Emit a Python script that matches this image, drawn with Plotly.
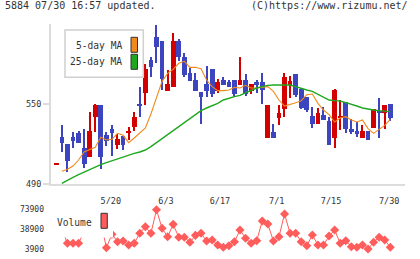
import plotly.graph_objects as go

# ---------------- data ----------------
opens = [504.5, 525.5, 520, 525.5, 528.5, 517, 510, 540, 549, 527, 531, 519, 526, 528.5, 532.5, 550,
         558.5, 583, 600.5, 597, 560, 563, 597, 585, 573, 568, 559, 565, 576, 560, 568, 566.5, 568,
         564, 568, 560, 566.5, 566.5, 524.75, 529, 539.75, 546, 564.25, 572.5, 561.25, 555.25,
         540.75, 535.25, 542, 537.25, 524.75, 539.5, 551.5, 531.25, 529.75, 524.75, 529.75, 532.25,
         545, 543.5, 550]
highs = [505.5, 534, 520, 529, 530, 531.5, 544, 550, 549, 529, 534, 527.5, 526, 532.5, 544, 563,
         580, 585.5, 609, 597, 575.5, 603, 599, 588, 577, 573.5, 559, 578.5, 576, 569, 570.25,
         567.75, 568, 585.5, 572.5, 565, 567.75, 573.5, 549.25, 535, 549.25, 573.5, 571, 572.5,
         561.75, 555.25, 547.5, 547.25, 547.5, 540.5, 561.25, 553, 551.5, 538.75, 536.75, 534,
         529.75, 546.25, 554.5, 549.25, 550]
lows = [504.5, 514, 499, 517, 520.5, 502, 510, 529, 501, 518.5, 511, 516.5, 515.5, 523, 529.5, 540.5,
        549.5, 570, 580.5, 560.5, 560, 563, 582.5, 570, 567.5, 560, 535, 555, 555.5, 558, 564.25,
        563, 555, 564, 556, 557.5, 558, 549.75, 524.75, 524.75, 534.25, 540.5, 554.75, 555, 546.5,
        544.25, 532, 535.25, 538, 519.5, 516.75, 530.5, 528.5, 527.5, 525.5, 524.75, 523, 532.25,
        524.75, 531.5, 537.5]
closes = [505.5, 520.5, 507.5, 522.5, 520.5, 505, 530, 549, 510.5, 522, 528.5, 524, 519, 529.5, 540,
          548.5, 576, 578, 593, 569, 565, 597, 585, 572, 567.5, 560, 555, 560, 557.5, 566.75, 564.25,
          563, 557.5, 568, 557.5, 565, 564.25, 560.5, 549.25, 524.75, 543.25, 570, 567.25, 556.75,
          547.25, 545.75, 535.25, 543.25, 538, 519.5, 560.5, 541, 531, 529.25, 527.75, 529.75, 523,
          546.25, 543.5, 549.25, 539.75]
ma5 = [None, 499.5, 501, 503.5, 508, 514, 515.5, 517.5, 525, 523, 523.5, 528, 526.5, 521, 524.5,
       528, 532, 542.5, 554, 567, 573, 576, 580.5, 582, 577.5, 577.5, 576.5, 568, 563, 560, 560,
       560.5, 562.5, 562, 564, 562, 562, 562.5, 563, 559.5, 553, 548.5, 549.5, 551, 552.5, 557,
       557.5, 550.5, 545.5, 542, 536.5, 539.5, 540.5, 538, 536.5, 538, 531.5, 528, 531, 534, 538.5]
ma25 = [None, 490.5, 493, 495, 497, 499, 501, 503, 504.5, 506, 507.5, 509, 510.5, 511.5, 513, 514,
        515.5, 518, 521, 524, 527, 530.5, 533, 536, 539, 542, 545, 547, 548.5, 550.5, 553, 554.5,
        555.5, 556.5, 558.5, 560.5, 562, 563, 564, 564.25, 564.25, 564.25, 564.25, 563, 561.5,
        560.5, 559.5, 557.5, 555, 553, 552.5, 552.25, 551, 550, 548.5, 547, 546, 545.5, 545, 544.5,
        544.25]
volume = [40000, 38000, 14000, 14000, 14000, 35000, 45000, 50000, 52000, 6200, 30000, 16800, 18000,
          11000, 14000, 31600, 43200, 31600, 73000, 40400, 25600, 47400, 24500, 24500, 15700, 28000,
          31600, 18000, 19800, 11000, 6900, 9700, 16800, 37400, 22800, 14000, 18500, 53300, 48000,
          18000, 25600, 65600, 31600, 31600, 16800, 9700, 28600, 11000, 11000, 26800, 37400, 14000,
          18500, 7900, 6900, 11000, 3900, 15700, 24500, 19800, 6900]
x_labels = ["5/20", "6/3", "6/17", "7/1", "7/15", "7/30"]
x_label_pos = [9.8, 19.7, 29.4, 39.6, 49.35, 59.8]
price_ticks = [490, 550]
vol_ticks = [3900, 38900, 73900]

RED = "#d40000"
BLUE = "#3c44c0"
ORANGE = "#f08a1c"
GREEN = "#1fa81f"
VOLC = "#ff5c5c"
FONT = "DejaVu Sans Mono"

idx = list(range(len(opens)))
colors = [RED if c >= o else BLUE for o, c in zip(opens, closes)]
body_base = [min(o, c) for o, c in zip(opens, closes)]
body_h = [max(abs(c - o), 0.8) for o, c in zip(opens, closes)]
wick_h = [h - l for h, l in zip(highs, lows)]

W, H = 420, 259
ML, MR, MT, MB = 51, 15, 24, 4
PW, PH = W - ML - MR, H - MT - MB


def px(x):
    return (x - ML) / PW


def py(y):
    return (H - MB - y) / PH


fig = go.Figure()
fig.add_trace(go.Bar(x=idx, y=wick_h, base=lows, width=0.2, marker=dict(color=colors, line_width=0),
                     showlegend=False, hoverinfo="skip"))
fig.add_trace(go.Bar(x=idx, y=body_h, base=body_base, width=0.85, marker=dict(color=colors, line_width=0),
                     showlegend=False))
fig.add_trace(go.Scatter(x=idx, y=ma5, mode="lines", line=dict(color=ORANGE, width=1.1), showlegend=False))
fig.add_trace(go.Scatter(x=idx, y=ma25, mode="lines", line=dict(color=GREEN, width=1.4), showlegend=False))
fig.add_trace(go.Scatter(x=idx, y=volume, mode="lines+markers", xaxis="x2", yaxis="y2",
                         line=dict(color=VOLC, width=1),
                         marker=dict(symbol="diamond", size=7, color=VOLC), showlegend=False))

xr = [(ML - 56.3) / 5.5667, (ML + PW - 56.3) / 5.5667]
tickfont = dict(family=FONT, size=8.5, color="#333")
axis_grey = "#dcdcdc"

fig.update_layout(
    width=W, height=H, margin=dict(l=ML, r=MR, t=MT, b=MB, pad=0, autoexpand=False),
    paper_bgcolor="white", plot_bgcolor="white", barmode="overlay", bargap=0, showlegend=False,
    xaxis=dict(domain=[0, 1], range=xr, anchor="y", tickvals=x_label_pos, ticktext=x_labels,
               ticks="", showline=True, linecolor=axis_grey, linewidth=2, showgrid=False,
               zeroline=False, tickfont=tickfont, ticklabelstandoff=8, automargin=False),
    yaxis=dict(domain=[py(184), 1], range=[490, 610], tickvals=price_ticks, ticks="outside",
               ticklen=6, tickwidth=2, tickcolor=axis_grey, showline=True, linecolor=axis_grey,
               linewidth=2, showgrid=False, zeroline=False, tickfont=tickfont, automargin=False),
    xaxis2=dict(domain=[0, 1], range=xr, anchor="y2", visible=False, automargin=False),
    yaxis2=dict(domain=[0, py(198)], range=[-6679, 93824], tickvals=vol_ticks,
                ticktext=[str(v) for v in vol_ticks], ticks="", showline=False, showgrid=False,
                zeroline=False, tickfont=dict(family=FONT, size=8, color="#333"), ticklabelstandoff=6,
                automargin=False),
    xaxis3=dict(overlaying="x", anchor="y", range=[0, 11], tickvals=list(range(12)), ticks="outside",
                ticklen=5, tickwidth=2, tickcolor=axis_grey, showticklabels=False, showline=False,
                showgrid=False, zeroline=False, automargin=False),
    xaxis4=dict(overlaying="x", anchor="y", range=[0, 11], tickvals=list(range(12)), ticks="inside",
                ticklen=4, tickwidth=2, tickcolor=axis_grey, showticklabels=False, showline=False,
                showgrid=False, zeroline=False, automargin=False),
)

shapes = [
    # main legend box
    dict(type="rect", xref="paper", yref="paper", x0=px(65), x1=px(143.3), y0=py(77.3), y1=py(30),
         fillcolor="white", line=dict(color="#d0d0d0", width=1.5), layer="above"),
    dict(type="rect", xref="paper", yref="paper", x0=px(131), x1=px(137.5), y0=py(52.3), y1=py(37.3),
         fillcolor=ORANGE, line=dict(color="#333", width=1), layer="above"),
    dict(type="rect", xref="paper", yref="paper", x0=px(131), x1=px(137.5), y0=py(69.3), y1=py(54.3),
         fillcolor=GREEN, line=dict(color="#333", width=1), layer="above"),
    # volume legend box
    dict(type="rect", xref="paper", yref="paper", x0=px(52), x1=px(113), y0=py(237.5), y1=py(204),
         fillcolor="white", line=dict(width=0), layer="above"),
    dict(type="rect", xref="paper", yref="paper", x0=px(101), x1=px(107.3), y0=py(228.3), y1=py(213.3),
         fillcolor=VOLC, line=dict(color="#333", width=1), layer="above"),
]
annotations = [
    dict(text="5884 07/30 16:57 updated.", xref="paper", yref="paper", x=px(3), y=py(6),
         xanchor="left", yanchor="middle", showarrow=False, font=dict(family=FONT, size=10, color="#333")),
    dict(text="(C)https://www.rizumu.net/", xref="paper", yref="paper", x=px(410), y=py(6),
         xanchor="right", yanchor="middle", showarrow=False, font=dict(family=FONT, size=10, color="#333")),
    dict(text="5-day MA", xref="paper", yref="paper", x=px(123.5), y=py(45.5),
         xanchor="right", yanchor="middle", showarrow=False, font=dict(family=FONT, size=9.6, color="#333")),
    dict(text="25-day MA", xref="paper", yref="paper", x=px(123.5), y=py(62),
         xanchor="right", yanchor="middle", showarrow=False, font=dict(family=FONT, size=9.6, color="#333")),
    dict(text="Volume", xref="paper", yref="paper", x=px(94), y=py(222),
         xanchor="right", yanchor="middle", showarrow=False, font=dict(family=FONT, size=9.6, color="#333")),
]
fig.update_layout(shapes=shapes, annotations=annotations)

fig.write_html("out.html", config=dict(displayModeBar=False))
